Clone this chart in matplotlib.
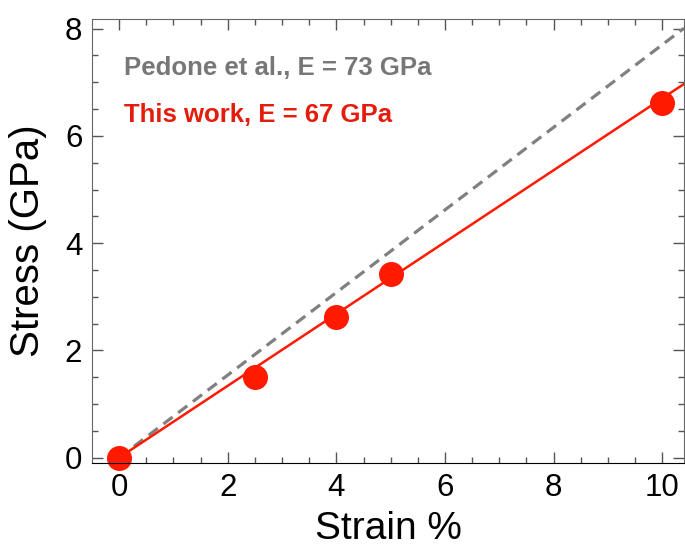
import numpy as np
import matplotlib.pyplot as plt

# data
strain = [0, 2.5, 4, 5, 10]
stress = [0, 1.51, 2.63, 3.43, 6.62]
slope_this = 0.67     # this work fit, GPa per %
slope_pedone = 0.77   # Pedone et al. line, GPa per %
label_pedone = 'Pedone et al., E = 73 GPa'
label_this = 'This work, E = 67 GPa'

plt.rcParams['font.family'] = ['Liberation Sans', 'DejaVu Sans']

fig = plt.figure(figsize=(6.85, 5.5), dpi=100)
ax = fig.add_axes([0.1343, 0.1582, 0.8642, 0.8073])

xs = np.array([0, 10.4])
ax.plot(xs, slope_pedone * xs, color='#808080', lw=2.3, ls=(0, (3.6, 2.2)))
ax.plot(xs, slope_this * xs, color='#ff1a00', lw=1.8)
ax.plot(strain, stress, 'o', color='#ff1a00', ms=18, mec='none', clip_on=False)

ax.text(0.054, 0.874, label_pedone, transform=ax.transAxes, color='#777777',
        fontsize=18.5, fontweight='bold', va='baseline')
ax.text(0.054, 0.768, label_this, transform=ax.transAxes, color='#e41c0c',
        fontsize=18.5, fontweight='bold', va='baseline')

ax.set_xlim(-0.5, 10.4)
ax.set_ylim(-0.1, 8.18)
ax.set_xticks([0, 2, 4, 6, 8, 10])
ax.set_yticks([0, 2, 4, 6, 8])
ax.set_xticks(np.arange(0, 10.5, 0.5), minor=True)
ax.set_yticks(np.arange(0, 8.1, 0.5), minor=True)
ax.tick_params(which='both', direction='in', top=True, right=True, color='#555555')
ax.tick_params(which='major', length=8, width=1, labelsize=22.5, pad=7)
ax.tick_params(which='minor', length=4, width=1)

for s in ['left', 'top', 'right']:
    ax.spines[s].set_color('#666666')
ax.spines['bottom'].set_color('black')

ax.set_xlabel('Strain %', fontsize=28, labelpad=6)
ax.set_ylabel('Stress (GPa)', fontsize=29, labelpad=13)

fig.savefig('out.png', dpi=100)
